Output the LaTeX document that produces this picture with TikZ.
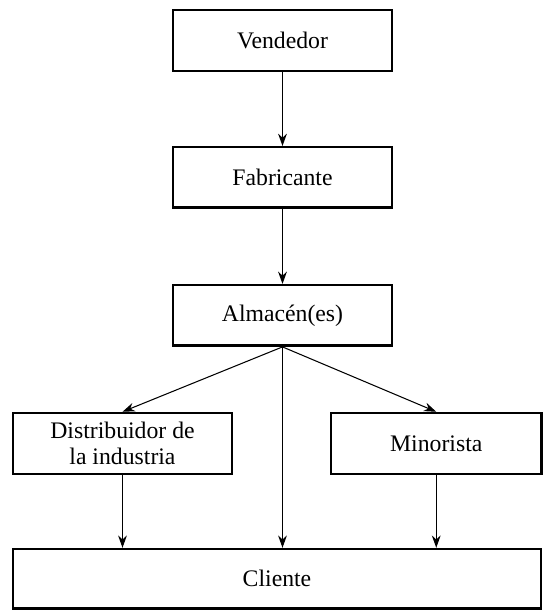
\documentclass[tikz,border=0pt]{standalone}
\usepackage{fontspec}
\setmainfont{Liberation Serif}
\usetikzlibrary{arrows.meta,positioning}

\begin{document}
\begin{tikzpicture}[font=\fontsize{13.5}{15}\selectfont,
  box/.style={draw, line width=1.4pt, minimum width=4.38cm, minimum height=1.21cm, inner sep=0pt, align=center},
  flow/.style={line width=0.6pt, -{Stealth[length=7pt,width=5pt]}}]
\useasboundingbox (0,0) rectangle (10.86,-12.2);
\node[box] (vend) at (5.65,-0.81) {Vendedor};
\node[box, below=1.48cm of vend] (fab) {Fabricante};
\node[box, below=1.5cm of fab] (alm) {Almac\'en(es)};
\node[box, minimum height=1.22cm] (dist) at (2.45,-8.87) {Distribuidor de\\la industria};
\node[box, minimum width=4.21cm, minimum height=1.22cm] (mino) at (8.725,-8.87) {Minorista};
\node[box, minimum width=10.57cm, minimum height=1.19cm] (cli) at (5.54,-11.575) {Cliente};
\draw[flow] (vend) -- (fab);
\draw[flow] (fab) -- (alm);
\draw[flow] (alm.south) -- (dist.north);
\draw[flow] (alm.south) -- (mino.north);
\draw[flow] (alm.south) -- (alm.south |- cli.north);
\draw[flow] (dist.south) -- (dist.south |- cli.north);
\draw[flow] (mino.south) -- (mino.south |- cli.north);
\end{tikzpicture}
\end{document}
